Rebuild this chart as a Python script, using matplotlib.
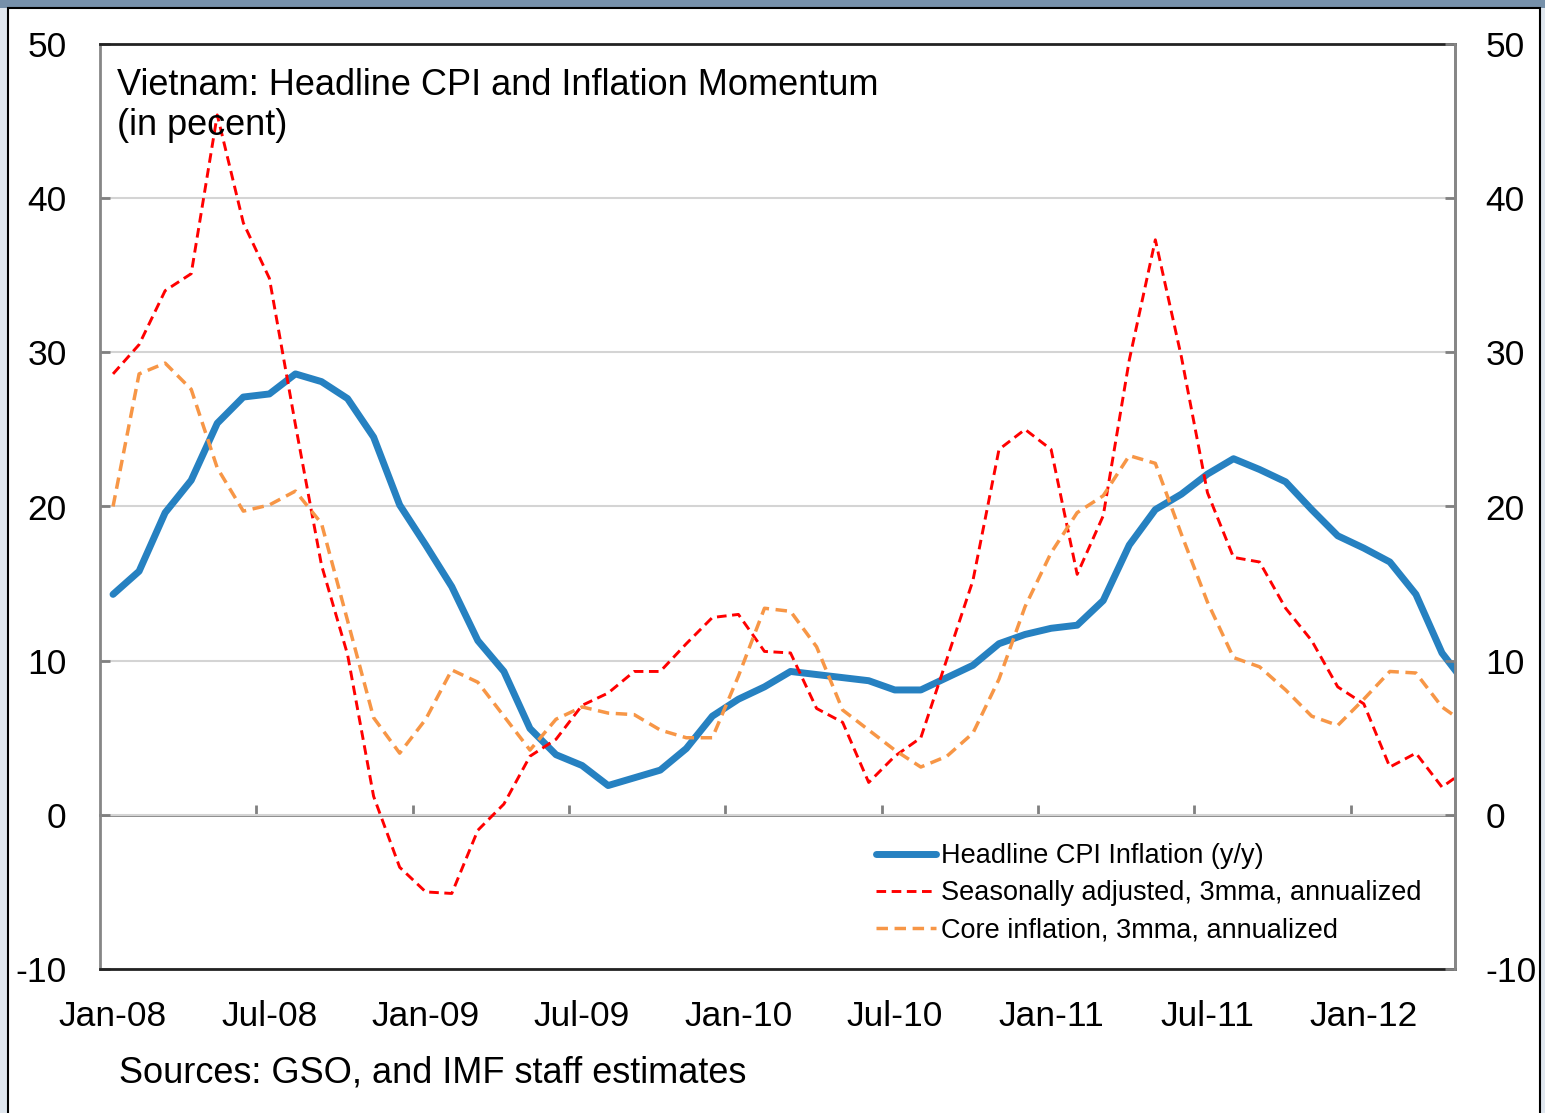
import matplotlib
matplotlib.use('Agg')
import matplotlib.pyplot as plt
import numpy as np
from matplotlib.patches import Rectangle

plt.rcParams['font.family'] = ['Liberation Sans', 'DejaVu Sans']
plt.rcParams['axes.unicode_minus'] = False

# monthly data, Jan-08 .. May-12 (last point falls past the axis edge)
headline = [14.3, 15.8, 19.6, 21.7, 25.4, 27.1, 27.3, 28.6, 28.1, 27.0, 24.5, 20.1,
            17.5, 14.8, 11.3, 9.3, 5.6, 3.9, 3.2, 1.9, 2.4, 2.9, 4.3, 6.4,
            7.5, 8.3, 9.3, 9.1, 8.9, 8.7, 8.1, 8.1, 8.9, 9.7, 11.1, 11.7,
            12.1, 12.3, 13.9, 17.5, 19.8, 20.8, 22.1, 23.1, 22.4, 21.6, 19.8, 18.1,
            17.3, 16.4, 14.3, 10.5, 8.3]
seas_adj = [28.6, 30.5, 34.0, 35.1, 45.4, 38.4, 34.8, 25.3, 16.2, 10.4, 1.2, -3.4,
            -5.0, -5.1, -1.0, 0.7, 3.8, 4.9, 7.1, 7.9, 9.3, 9.3, 11.1, 12.8,
            13.0, 10.6, 10.5, 6.9, 6.0, 2.1, 3.8, 5.0, 10.1, 15.2, 23.7, 25.0,
            23.7, 15.6, 19.4, 29.5, 37.3, 29.7, 20.9, 16.7, 16.4, 13.4, 11.3, 8.3,
            7.2, 3.1, 4.0, 1.8, 3.0]
core = [20.0, 28.6, 29.3, 27.6, 22.5, 19.7, 20.1, 21.0, 18.9, 12.6, 6.3, 4.0,
        6.2, 9.4, 8.6, 6.4, 4.2, 6.2, 7.0, 6.6, 6.5, 5.5, 5.0, 5.0,
        9.0, 13.4, 13.2, 10.9, 6.8, 5.5, 4.2, 3.1, 3.8, 5.3, 8.8, 13.5,
        17.0, 19.6, 20.7, 23.3, 22.8, 18.2, 13.8, 10.2, 9.6, 8.1, 6.4, 5.8,
        7.5, 9.3, 9.2, 7.0, 5.8]
tick_labels = ['Jan-08', 'Jul-08', 'Jan-09', 'Jul-09', 'Jan-10', 'Jul-10',
               'Jan-11', 'Jul-11', 'Jan-12']
series_names = ['Headline CPI Inflation (y/y)',
                'Seasonally adjusted, 3mma, annualized',
                'Core inflation, 3mma, annualized']

x = np.arange(len(headline))
W, H = 1545, 1113

fig = plt.figure(figsize=(W / 100, H / 100), dpi=100)
fig.patch.set_facecolor('#dfe6ee')
fig.patches.append(Rectangle((0, 1 - 8 / H), 1, 8 / H, transform=fig.transFigure,
                             facecolor='#7690aa', edgecolor='none', zorder=-2))
fig.patches.append(Rectangle((8 / W, -0.01), (1540 - 8) / W, 1 - 8 / H + 0.01,
                             transform=fig.transFigure, facecolor='white',
                             edgecolor='black', lw=1.5, zorder=-1))

ax = fig.add_axes([100 / W, 1 - 969 / H, 1355 / W, 925 / H])
ax.set_facecolor('none')

ax.plot(x, headline, color='#2681c1', lw=5, solid_capstyle='round', label=series_names[0], zorder=3)
ax.plot(x, seas_adj, color='#ff0000', lw=2.1, ls=(0, (3.3, 1.9)), label=series_names[1], zorder=4)
ax.plot(x, core, color='#f79646', lw=2.5, ls=(0, (3.3, 1.9)), label=series_names[2], zorder=5)

ax.set_xlim(-0.5, 51.5)
ax.set_ylim(-10, 50)
ax.set_yticks(np.arange(-10, 51, 10))
ax.set_xticks(np.arange(0, 49, 6))
ax.set_xticklabels(tick_labels)
ax.grid(axis='y', color='#d4d4d4', lw=1.5, zorder=0)
ax.tick_params(axis='x', length=0, pad=22, labelsize=25.5)
ax.tick_params(axis='y', direction='in', length=7, width=2, color='#808080', pad=24, labelsize=25.5)

for loc, sp in ax.spines.items():
    if loc in ['left', 'right']:
        sp.set_color('#868686')
        sp.set_linewidth(2)
    else:
        sp.set_color('#222222')
        sp.set_linewidth(2)

# zero line with tick marks between the half-year labels
zero = ax.secondary_xaxis(1 / 6)
zero.set_xticks(np.arange(5.5, 48, 6))
zero.set_xticklabels([])
zero.tick_params(direction='in', length=7, width=2, color='#808080')
for sp in zero.spines.values():
    sp.set_color('#808080')
    sp.set_linewidth(2)

ax2 = ax.twinx()
ax2.set_ylim(-10, 50)
ax2.set_yticks(np.arange(-10, 51, 10))
ax2.tick_params(axis='y', direction='in', length=7, width=2, color='#808080', pad=22, labelsize=25.5)
for loc, sp in ax2.spines.items():
    sp.set_visible(loc == 'right')
ax2.spines['right'].set_color('#868686')
ax2.spines['right'].set_linewidth(2)

ax.legend(loc='upper left', bbox_to_anchor=(876 / W, 1 - 843 / H), bbox_transform=fig.transFigure,
          frameon=False, fontsize=19.5, handlelength=2.2, handletextpad=0.2,
          labelspacing=0.42, borderpad=0, borderaxespad=0)

fig.text(117 / W, 1 - 68 / H, 'Vietnam: Headline CPI and Inflation Momentum\n(in pecent)',
         fontsize=26, va='top', ha='left', linespacing=1.2)
fig.text(119 / W, 1 - 1073 / H, 'Sources: GSO, and IMF staff estimates',
         fontsize=26, va='center', ha='left')

fig.savefig('out.png', dpi=100)
